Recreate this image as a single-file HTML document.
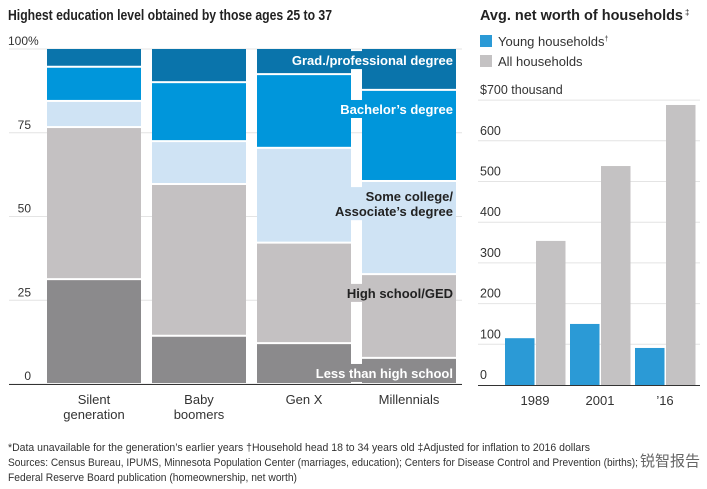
<!DOCTYPE html>
<html><head><meta charset="utf-8"><style>
body{margin:0;background:#fff}
svg{display:block;font-family:"Liberation Sans","Noto Sans CJK SC",sans-serif}
</style></head><body>
<svg id="c" width="707" height="489" viewBox="0 0 707 489">
<text x="8" y="20" font-size="15" font-weight="bold" fill="#222" textLength="324" lengthAdjust="spacingAndGlyphs">Highest education level obtained by those ages 25 to 37</text>
<text x="480" y="20" font-size="15" font-weight="bold" fill="#222" textLength="203" lengthAdjust="spacingAndGlyphs">Avg. net worth of households</text>
<text x="685" y="15" font-size="8" fill="#222">‡</text>
<rect x="480" y="35" width="12" height="12" fill="#2b9ad6"/>
<text x="498" y="46" font-size="13" fill="#333">Young households<tspan font-size="7" dy="-5">†</tspan></text>
<rect x="480" y="55" width="12" height="12" fill="#c4c2c3"/>
<text x="498" y="66" font-size="13" fill="#333">All households</text>
<g id="left"></g><g id="right"></g>
<text x="8" y="451" font-size="11" fill="#333" textLength="582" lengthAdjust="spacingAndGlyphs">*Data unavailable for the generation’s earlier years   †Household head 18 to 34 years old   ‡Adjusted for inflation to 2016 dollars</text>
<text x="8" y="466" font-size="11" fill="#333" textLength="630" lengthAdjust="spacingAndGlyphs">Sources: Census Bureau, IPUMS, Minnesota Population Center (marriages, education); Centers for Disease Control and Prevention (births);</text>
<text x="8" y="481" font-size="11" fill="#333" textLength="289" lengthAdjust="spacingAndGlyphs">Federal Reserve Board publication (homeownership, net worth)</text>
<text x="640" y="466" font-size="15" fill="#666">锐智报告</text>
</svg>
<script>
const NS="http://www.w3.org/2000/svg";
function mk(p,t,a){const e=document.createElementNS(NS,t);for(const k in a)e.setAttribute(k,a[k]);p.appendChild(e);return e;}
// Left chart data
const generations=["Silent generation","Baby boomers","Gen X","Millennials"];
const lessHS=[31.3,14.4,12.2,7.8];
const highSchool=[45.4,45.3,30,25];
const someCollege=[7.8,12.8,28.3,27.8];
const bachelors=[10.2,17.6,22,27.2];
const grad=[5.3,9.9,7.5,12.2];
const pctTicks=[0,25,50,75,100];
const segColors=["#8b8a8c","#c4c1c2","#cfe3f4","#0096db","#0a74ab"];
const y0=384,H=335;
const yL=v=>y0-v/100*H;
const L=document.getElementById('left');
pctTicks.forEach(t=>{
  const g=mk(L,'line',{x1:9,x2:462,y1:yL(t),y2:yL(t),stroke:'#e4e4e4','stroke-width':1});
  
  
  const tx=mk(L,'text',{x:t===100?8:31,y:yL(t)-4,'font-size':12,fill:'#333','text-anchor':t===100?'start':'end'});
  tx.textContent=t===100?'100%':t;
  
  
});
const series=[lessHS,highSchool,someCollege,bachelors,grad];
generations.forEach((gname,i)=>{
  const x=47+i*105;let acc=0;
  series.forEach((s,j)=>{
    const top=acc+s[i];
    const r=mk(L,'rect',{x:x,y:yL(top)+(j===4?0:1),width:94,height:Math.max(0,yL(acc)-yL(top)-(j===4?1:2)),fill:segColors[j]});
    
    
    acc=top;
  });
});
const ax=mk(L,'line',{x1:9,x2:462,y1:y0+0.5,y2:y0+0.5,stroke:'#333','stroke-width':1});


const xlab=[["Silent","generation"],["Baby","boomers"],["Gen X"],["Millennials"]];
xlab.forEach((ls,i)=>{ls.forEach((l,k)=>{
  const t=mk(L,'text',{x:94+i*105,y:404+k*15,'font-size':13,fill:'#333','text-anchor':'middle'});
  t.textContent=l;
  
  
});});
const m=3;
const scTop=lessHS[m]+highSchool[m]+someCollege[m];
const labs=[["Grad./professional degree",95.2,'#fff',4],["Bachelor’s degree",100-grad[m]-7.2,'#fff',3],["Some college/",scTop-6,'#222',2],["Associate’s degree",scTop-10.5,'#222',2],["High school/GED",lessHS[m]+highSchool[m]-7.1,'#222',1],["Less than high school",1.8,'#fff',0]];
labs.forEach(l=>{
  const gr=mk(L,'rect',{x:350,y:yL(l[1])-14,width:13,height:18,fill:segColors[l[3]]});
  
  
});
labs.forEach(l=>{
  const t=mk(L,'text',{x:453,y:yL(l[1]),'font-size':13,'font-weight':'bold',fill:l[2],'text-anchor':'end'});
  t.textContent=l[0];
  
  
});
// Right chart data
const years=["1989","2001","’16"];
const young=[115,150,91];
const allHH=[354,538,688];
const wTicks=[0,100,200,300,400,500,600,700];
const ry0=385,per=40.7;
const yR=v=>ry0-v/100*per;
const R=document.getElementById('right');
wTicks.forEach(t=>{
  if(t>0){const g=mk(R,'line',{x1:478,x2:700,y1:yR(t),y2:yR(t),stroke:'#e4e4e4','stroke-width':1});
  
  }
  const tx=mk(R,'text',{x:480,y:yR(t)-6,'font-size':12.5,fill:'#333'});
  tx.textContent=t===700?'$700 thousand':t;
  
  
});
years.forEach((yr,i)=>{
  const x=505+i*65;
  const a=mk(R,'rect',{x:x,y:yR(young[i]),width:29.5,height:ry0-yR(young[i]),fill:'#2b9ad6'});
  
  
  const b=mk(R,'rect',{x:x+31,y:yR(allHH[i]),width:29.5,height:ry0-yR(allHH[i]),fill:'#c4c2c3'});
  
  
  const t=mk(R,'text',{x:x+30,y:405,'font-size':13,fill:'#333','text-anchor':'middle'});
  t.textContent=yr;
  
  
});
const rax=mk(R,'line',{x1:478,x2:700,y1:ry0+0.5,y2:ry0+0.5,stroke:'#333','stroke-width':1});


</script>
</body></html>
